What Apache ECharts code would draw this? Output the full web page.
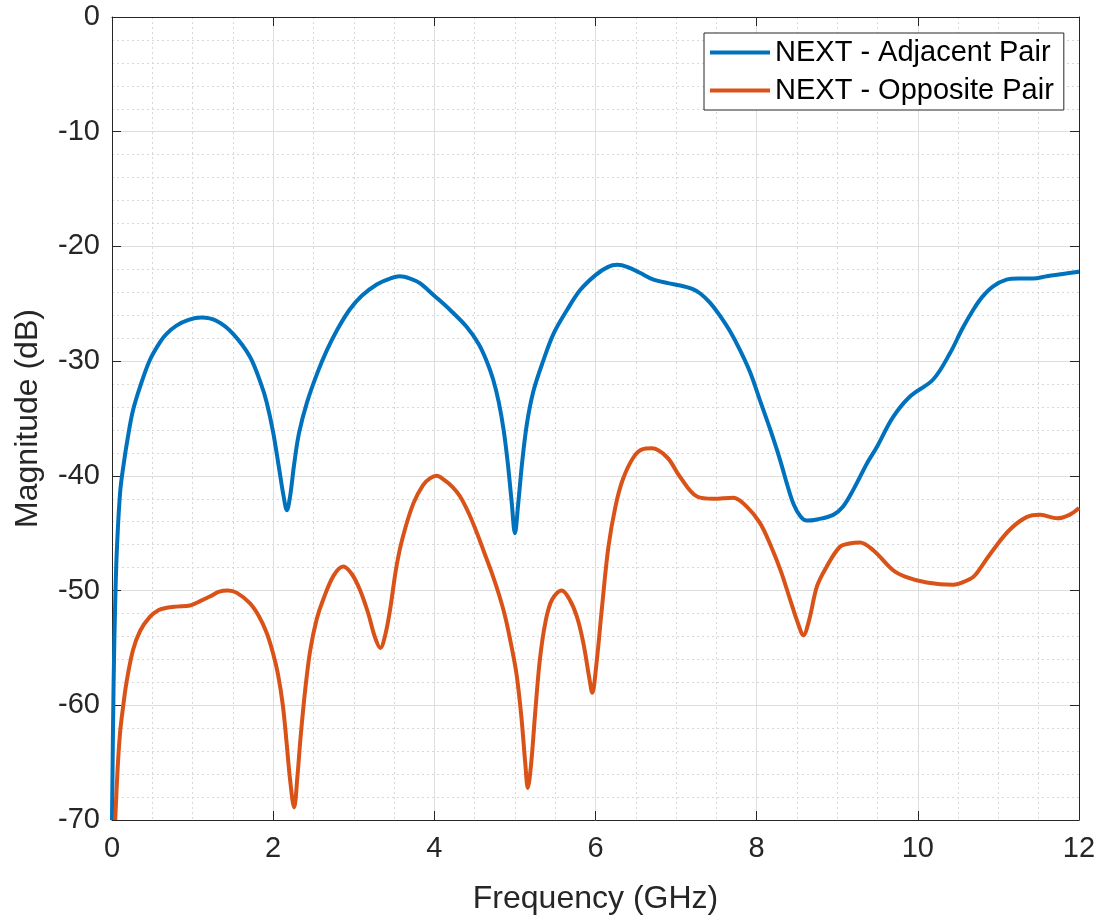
<!DOCTYPE html>
<html>
<head>
<meta charset="utf-8">
<script src="https://cdn.jsdelivr.net/npm/echarts@6/dist/echarts.min.js"></script>
<style>
html,body{margin:0;padding:0;background:#fff;}
#c{width:1103px;height:921px;}
</style>
</head>
<body>
<div id="c"></div>
<script>
// Frequency (GHz) and magnitude (dB)
const freqAdj = [0, 0.02, 0.04, 0.06, 0.1, 0.14, 0.2, 0.26, 0.35, 0.47, 0.6, 0.68, 0.8, 0.95, 1.11, 1.3, 1.5, 1.71, 1.85, 1.92, 2.0, 2.07, 2.13, 2.17, 2.21, 2.26, 2.32, 2.42, 2.55, 2.67, 2.8, 2.95, 3.1, 3.29, 3.45, 3.57, 3.7, 3.82, 4.0, 4.19, 4.4, 4.55, 4.65, 4.73, 4.8, 4.86, 4.91, 4.96, 5.0, 5.04, 5.09, 5.15, 5.23, 5.35, 5.48, 5.65, 5.81, 6.0, 6.15, 6.27, 6.4, 6.55, 6.72, 6.9, 7.05, 7.2, 7.3, 7.42, 7.55, 7.67, 7.79, 7.92, 8.04, 8.17, 8.29, 8.38, 8.46, 8.54, 8.62, 8.75, 8.95, 9.07, 9.2, 9.37, 9.49, 9.69, 9.9, 10.19, 10.4, 10.55, 10.69, 10.8, 10.93, 11.1, 11.25, 11.43, 11.6, 11.8, 12];
const magAdj  = [-70, -58, -51, -46.5, -41.5, -39.2, -36.5, -34.3, -32.2, -29.9, -28.3, -27.6, -26.9, -26.4, -26.2, -26.5, -27.6, -29.6, -32.0, -33.6, -36.2, -39.2, -41.8, -43.0, -41.8, -39.0, -36.3, -33.6, -31.0, -29.0, -27.2, -25.5, -24.3, -23.3, -22.8, -22.6, -22.8, -23.2, -24.3, -25.5, -27.0, -28.5, -30.0, -31.6, -33.6, -36.0, -38.8, -42.3, -45.0, -42.5, -38.8, -35.4, -32.6, -30.0, -27.6, -25.5, -23.8, -22.5, -21.8, -21.6, -21.8, -22.3, -22.9, -23.2, -23.4, -23.7, -24.1, -24.9, -26.1, -27.4, -29.0, -31.0, -33.4, -36.0, -38.6, -40.8, -42.5, -43.5, -43.9, -43.8, -43.4, -42.7, -41.2, -38.9, -37.5, -34.9, -33.1, -31.6, -29.3, -27.2, -25.5, -24.4, -23.5, -22.9, -22.8, -22.8, -22.6, -22.4, -22.2];

const freqOpp = [0.04, 0.07, 0.1, 0.14, 0.18, 0.26, 0.35, 0.47, 0.58, 0.68, 0.8, 0.97, 1.1, 1.22, 1.33, 1.44, 1.55, 1.71, 1.82, 1.92, 2.0, 2.06, 2.12, 2.17, 2.21, 2.26, 2.3, 2.34, 2.4, 2.46, 2.54, 2.62, 2.75, 2.87, 2.98, 3.08, 3.18, 3.26, 3.33, 3.39, 3.45, 3.53, 3.61, 3.74, 3.86, 3.95, 4.03, 4.13, 4.23, 4.32, 4.43, 4.53, 4.62, 4.7, 4.8, 4.88, 4.95, 5.02, 5.08, 5.13, 5.16, 5.2, 5.25, 5.31, 5.38, 5.46, 5.58, 5.68, 5.77, 5.85, 5.92, 5.96, 6.01, 6.08, 6.16, 6.25, 6.34, 6.47, 6.58, 6.7, 6.89, 7.05, 7.26, 7.46, 7.71, 7.88, 8.04, 8.17, 8.3, 8.42, 8.51, 8.58, 8.65, 8.75, 8.87, 9.03, 9.15, 9.28, 9.45, 9.69, 9.85, 10.11, 10.44, 10.55, 10.69, 10.8, 10.93, 11.14, 11.35, 11.52, 11.73, 11.88, 12];
const magOpp  = [-70, -65.5, -62.4, -60.0, -58.0, -55.2, -53.5, -52.3, -51.7, -51.5, -51.4, -51.3, -50.9, -50.5, -50.1, -50.0, -50.2, -51.1, -52.2, -53.7, -55.5, -57.3, -60.0, -63.5, -66.5, -68.9, -66.3, -62.8, -58.5, -55.2, -52.5, -50.8, -48.7, -47.9, -48.6, -50.0, -52.0, -54.0, -55.0, -53.9, -51.7, -47.9, -45.3, -42.4, -40.8, -40.2, -40.0, -40.4, -41.0, -41.8, -43.3, -45.0, -46.7, -48.2, -50.3, -52.3, -54.6, -57.3, -61.0, -65.2, -67.2, -65.2, -60.8, -56.0, -52.7, -50.8, -50.0, -50.8, -52.3, -54.6, -57.5, -58.9, -56.5, -51.5, -46.2, -42.6, -40.3, -38.4, -37.7, -37.6, -38.4, -40.1, -41.8, -42.0, -41.9, -42.7, -44.1, -46.0, -48.3, -50.9, -52.8, -53.9, -52.6, -49.6, -47.9, -46.2, -45.9, -45.8, -46.5, -48.2, -48.8, -49.3, -49.5, -49.3, -48.8, -47.8, -46.5, -44.7, -43.6, -43.4, -43.7, -43.4, -42.8];

const xTicks = [0, 2, 4, 6, 8, 10, 12];
const yTicks = [0, -10, -20, -30, -40, -50, -60, -70];
const seriesNames = ['NEXT - Adjacent Pair', 'NEXT - Opposite Pair'];
const seriesColors = ['#0072BD', '#D95319'];

const pairs = (xs, ys) => xs.map((x, i) => [x, ys[i]]);
const axisColor = '#262626';
const font = 'Liberation Sans, Arial, Helvetica, sans-serif';

const chart = echarts.init(document.getElementById('c'), null, {renderer: 'canvas'});

const baseX = {
  type: 'value', min: xTicks[0], max: xTicks[xTicks.length - 1], interval: 2,
  axisLine: {show: true, onZero: false, lineStyle: {color: axisColor, width: 1}},
  axisTick: {show: true, inside: true, length: 9, lineStyle: {color: axisColor}},
  minorTick: {show: false, splitNumber: 4}
};
const baseY = {
  type: 'value', min: yTicks[yTicks.length - 1], max: yTicks[0], interval: 10,
  axisLine: {show: true, onZero: false, lineStyle: {color: axisColor, width: 1}},
  axisTick: {show: true, inside: true, length: 9, lineStyle: {color: axisColor}},
  minorTick: {show: false, splitNumber: 5}
};

chart.setOption({
  backgroundColor: '#ffffff',
  animation: false,
  textStyle: {fontFamily: font},
  grid: {left: 112, right: 24, top: 17, bottom: 101, containLabel: false},
  legend: {
    orient: 'vertical', left: 704, top: 33,
    data: seriesNames.map((n, i) => ({name: n, icon: 'rect', itemStyle: {color: seriesColors[i]}})),
    itemWidth: 60, itemHeight: 4, itemGap: 9,
    padding: [5, 10, 5, 6],
    backgroundColor: '#ffffff', borderColor: axisColor, borderWidth: 1,
    textStyle: {fontSize: 29, color: '#000000', fontFamily: font}
  },
  xAxis: [
    Object.assign({}, baseX, {
      position: 'bottom',
      name: 'Frequency (GHz)', nameLocation: 'middle', nameGap: 63,
      nameTextStyle: {fontSize: 32, color: axisColor, fontFamily: font},
      axisLabel: {show: true, fontSize: 29, color: axisColor, margin: 14, fontFamily: font},
      splitLine: {show: true, lineStyle: {color: '#dedede', width: 1}},
      minorSplitLine: {show: true, lineStyle: {color: '#d8d8d8', width: 1, type: [2, 3]}}
    }),
    Object.assign({}, baseX, {
      position: 'top',
      axisLabel: {show: false},
      splitLine: {show: false}
    })
  ],
  yAxis: [
    Object.assign({}, baseY, {
      position: 'left',
      name: 'Magnitude (dB)', nameLocation: 'middle', nameGap: 68, nameRotate: 90,
      nameTextStyle: {fontSize: 32, color: axisColor, fontFamily: font},
      axisLabel: {show: true, fontSize: 29, color: axisColor, margin: 12, fontFamily: font},
      splitLine: {show: true, lineStyle: {color: '#dedede', width: 1}},
      minorSplitLine: {show: true, lineStyle: {color: '#d8d8d8', width: 1, type: [2, 3]}}
    }),
    Object.assign({}, baseY, {
      position: 'right',
      axisLabel: {show: false},
      splitLine: {show: false}
    })
  ],
  series: [
    {
      name: seriesNames[0], type: 'line', xAxisIndex: 0, yAxisIndex: 0,
      data: pairs(freqAdj, magAdj), symbol: 'none', smooth: 0.35, clip: true,
      lineStyle: {color: seriesColors[0], width: 4}, itemStyle: {color: seriesColors[0]}, z: 3
    },
    {
      name: seriesNames[1], type: 'line', xAxisIndex: 0, yAxisIndex: 0,
      data: pairs(freqOpp, magOpp), symbol: 'none', smooth: 0.35, clip: true,
      lineStyle: {color: seriesColors[1], width: 4}, itemStyle: {color: seriesColors[1]}, z: 4
    }
  ]
});
</script>
</body>
</html>
